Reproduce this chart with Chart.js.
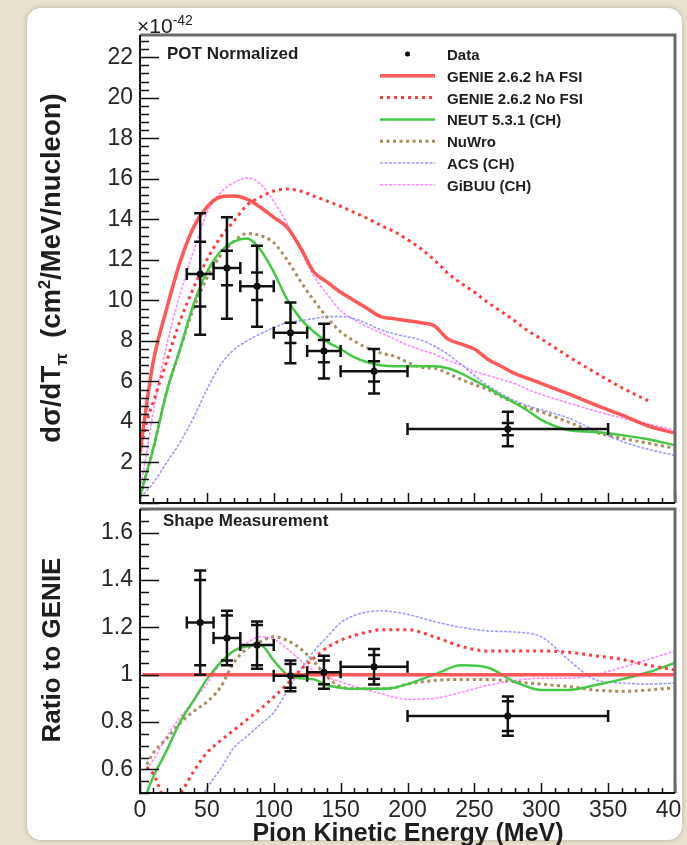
<!DOCTYPE html>
<html>
<head>
<meta charset="utf-8">
<script src="https://cdn.jsdelivr.net/npm/chart.js@4.4.1/dist/chart.umd.min.js"></script>
<style>
  body { margin: 0; width: 687px; height: 845px; overflow: hidden; position: relative;
         background: #e8e2ce; font-family: "Liberation Sans", Arial, sans-serif; }
  .card { position: absolute; left: 27px; top: 8px; width: 655px; height: 832px; background: #fff;
          border-radius: 14px; box-shadow: 0 0 5px rgba(90, 80, 60, 0.35); }
  canvas { position: absolute; left: 0; }
  #topChart { top: 0; }
  #ratioChart { top: 505px; }
  .txt { position: absolute; white-space: nowrap; color: #1e1e1e; line-height: 1; }
  .rot { transform: translate(-50%, -50%) rotate(-90deg); font-weight: bold; font-size: 26px; }
  .rot sub, .rot sup { font-size: 0.6em; line-height: 0; }
  .lbl { font-weight: bold; font-size: 17px; transform: translateY(-50%); }
  .leg { font-weight: bold; font-size: 15px; transform: translateY(-50%); }
</style>
</head>
<body>
<div class="card"></div>
<canvas id="topChart" width="682" height="507"></canvas>
<canvas id="ratioChart" width="682" height="340"></canvas>

<div class="txt" style="left:137px; top:15px; font-size:21px;">×10<span style="position:relative; top:-8px; font-size:14px;">-42</span></div>
<div class="txt rot" style="left:51px; top:268px; font-size:27.5px;">dσ/dT<sub>π</sub>&nbsp;&nbsp;(cm<sup>2</sup>/MeV/nucleon)</div>
<div class="txt rot" style="left:51px; top:650px;">Ratio to GENIE</div>
<div class="txt" style="left:408px; top:832px; transform:translate(-50%,-50%); font-weight:bold; font-size:25px;">Pion Kinetic Energy (MeV)</div>
<div class="txt lbl" style="left:167px; top:53px;">POT Normalized</div>
<div class="txt lbl" style="left:163px; top:520px;">Shape Measurement</div>
<div id="legendText"></div>

<script>
// ---- values ----
const energyGrid = [0, 5, 10, 20, 30, 40, 50, 60, 70, 80, 90, 100, 110, 120, 130, 140, 150, 160, 170, 180,
                    190, 200, 210, 220, 230, 240, 250, 260, 270, 280, 290, 300, 320, 340, 360, 380, 400];
const genieHA    = [2.5, 4.9, 7.0, 9.6, 11.9, 13.6, 14.6, 15.1, 15.15, 15.0, 14.6, 14.1, 13.6, 12.6, 11.4, 10.9, 10.4, 10.0, 9.6, 9.2,
                    9.1, 9.0, 8.9, 8.75, 8.1, 7.85, 7.6, 7.1, 6.75, 6.4, 6.15, 5.9, 5.4, 4.85, 4.35, 3.8, 3.45];
const genieNoFSI = [2.5, 4.0, 5.0, 7.0, 9.0, 10.6, 12.0, 13.1, 13.9, 14.7, 15.1, 15.4, 15.5, 15.4, 15.15, 14.9, 14.65, 14.35, 14.05, 13.7,
                    13.4, 13.0, 12.55, 12.0, 11.35, 10.85, 10.4, 9.9, 9.45, 9.0, 8.5, 8.1, 7.25, 6.45, 5.7, 5.05, null];
const neut       = [0.3, 1.5, 2.7, 5.5, 7.6, 9.8, 11.4, 12.4, 12.9, 13.05, 12.5, 11.4, 10.05, 9.1, 8.45, 7.95, 7.6, 7.2, 6.95, 6.8,
                    6.75, 6.75, 6.75, 6.75, 6.65, 6.4, 6.05, 5.7, 5.3, 4.95, 4.55, 4.1, 3.6, 3.5, 3.35, 3.15, 2.85];
const nuwro      = [0.3, 1.5, 2.7, 5.5, 7.6, 9.6, 11.1, 12.2, 12.9, 13.3, 13.2, 12.85, 12.0, 10.95, 10.0, 9.15, 8.45, 8.0, 7.65, 7.4,
                    7.25, 6.95, 6.7, 6.65, 6.4, 6.1, 5.85, 5.6, 5.25, 4.95, 4.7, 4.5, 4.0, 3.5, 3.2, 2.95, 2.7];
const acs        = [0.3, 0.6, 1.0, 2.0, 3.0, 4.2, 5.6, 6.8, 7.55, 8.0, 8.35, 8.65, 8.9, 9.0, 9.1, 9.2, 9.2, 9.1, 8.85, 8.55,
                    8.35, 8.2, 8.05, 7.75, 7.35, 6.85, 6.3, 5.8, 5.4, 5.05, 4.8, 4.6, 4.2, 3.6, 3.05, 2.65, 2.35];
const gibuu      = [0.5, 2.5, 4.5, 7.8, 10.3, 12.4, 14.3, 15.3, 15.8, 16.05, 15.75, 14.9, 13.8, 12.5, 11.2, 10.3, 9.5, 9.05, 8.7, 8.4,
                    8.1, 7.8, 7.55, 7.35, 7.05, 6.8, 6.5, 6.3, 6.1, 5.9, 5.6, 5.35, 4.95, 4.55, 4.2, 3.9, 3.6];

const ratioGrid  = [5, 10, 20, 30, 40, 50, 60, 70, 80, 90, 100, 110, 120, 130, 140, 150, 160, 170, 180, 190,
                    200, 220, 240, 260, 280, 300, 320, 340, 360, 380, 400];
const genieRatioX = [2, 400];
const genieRatio  = [1, 1];
const noFSIRatio = [0.61, 0.58, 0.47, 0.50, 0.59, 0.67, 0.72, 0.765, 0.81, 0.855, 0.905, 0.96, 1.02, 1.07, 1.115, 1.145, 1.165, 1.18, 1.19, 1.19,
                    1.19, 1.16, 1.12, 1.1, 1.1, 1.1, 1.095, 1.08, 1.065, 1.04, 1.02];
const neutRatio  = [0.5, 0.57, 0.68, 0.8, 0.89, 0.98, 1.05, 1.1, 1.12, 1.125, 1.06, 1.0, 0.985, 0.98, 0.955, 0.945, 0.94, 0.94, 0.94, 0.945,
                    0.96, 1.0, 1.04, 1.03, 0.97, 0.935, 0.935, 0.955, 0.98, 1.01, 1.05];
const nuwroRatio = [0.62, 0.67, 0.73, 0.795, 0.845, 0.885, 0.945, 1.05, 1.11, 1.14, 1.16, 1.145, 1.11, 1.055, 0.99, 0.95, 0.94, 0.94, 0.94, 0.945,
                    0.96, 0.975, 0.98, 0.98, 0.97, 0.96, 0.95, 0.935, 0.93, 0.935, 0.945];
const acsRatio   = [null, null, null, 0.3, 0.42, 0.52, 0.6, 0.69, 0.74, 0.79, 0.84, 0.93, 1.02, 1.1, 1.16, 1.22, 1.25, 1.265, 1.27, 1.265,
                    1.255, 1.225, 1.2, 1.185, 1.18, 1.16, 1.065, 0.98, 0.965, 0.96, 0.965];
const gibuuRatio = [0.6, 0.64, 0.74, 0.82, 0.89, 0.96, 1.045, 1.1, 1.135, 1.16, 1.15, 1.11, 1.06, 1.015, 0.99, 0.97, 0.95, 0.935, 0.92, 0.905,
                    0.896, 0.9, 0.925, 0.955, 0.975, 0.985, 0.985, 1.0, 1.03, 1.065, 1.1];

// measured points: bin centres, bin edges, value, stat (inner) and total (outer) errors
const binCentres = [45, 65, 87.5, 112.5, 137.5, 175, 275];
const binLow     = [35, 55, 75, 100, 125, 150, 200];
const binHigh    = [55, 75, 100, 125, 150, 200, 350];
const xsecData   = [11.3, 11.6, 10.7, 8.4, 7.5, 6.5, 3.65];
const xsecStat   = [1.6, 0.85, 0.68, 0.5, 0.55, 0.5, 0.3];
const xsecTotal  = [3.0, 2.5, 2.0, 1.5, 1.35, 1.1, 0.85];
const ratioData  = [1.22, 1.155, 1.125, 0.995, 1.01, 1.033, 0.825];
const ratioStat  = [0.18, 0.095, 0.085, 0.05, 0.05, 0.05, 0.063];
const ratioTotal = [0.22, 0.115, 0.1, 0.065, 0.07, 0.075, 0.083];

// tick labels
const xsecTicks   = [2, 4, 6, 8, 10, 12, 14, 16, 18, 20, 22];
const ratioTicks  = [0.6, 0.8, 1, 1.2, 1.4, 1.6];
const energyTicks = [0, 50, 100, 150, 200, 250, 300, 350, 400];

const seriesNames = ['GENIE 2.6.2 hA FSI', 'GENIE 2.6.2 No FSI', 'NEUT 5.3.1 (CH)', 'NuWro', 'ACS (CH)', 'GiBUU (CH)'];

// ---- styles ----
const styles = [
  { color: 'rgba(255,70,70,0.9)', width: 3.5, dash: [] },
  { color: '#ff3b3b', width: 3, dash: [3, 4] },
  { color: '#45c845', width: 2.5, dash: [] },
  { color: '#a88e5c', width: 3, dash: [3, 3.5] },
  { color: '#9c9cff', width: 1.6, dash: [3, 1.5] },
  { color: '#ff8cff', width: 1.6, dash: [3, 1.5] }
];

const pts = (xs, ys) => xs.map((x, i) => ({ x: x, y: ys[i] }));
const useTicks = list => scale => { scale.ticks = list.map(v => ({ value: v })); };
const plainLabel = v => String(+v.toFixed(2));

function curve(i, xs, ys) {
  const s = styles[i];
  return {
    label: seriesNames[i], data: pts(xs, ys), borderColor: s.color, borderWidth: s.width,
    borderDash: s.dash, pointRadius: 0, fill: false, cubicInterpolationMode: 'monotone', spanGaps: false
  };
}

function dataSet(ys) {
  return { type: 'scatter', label: 'Data', data: pts(binCentres, ys), pointRadius: 3.5,
           pointBackgroundColor: '#000', pointBorderColor: '#000', borderWidth: 0 };
}

// ROOT-like frame with inward ticks, drawn from the chart's scales
function frameTicks(cfg) {
  return {
    id: 'frameTicks',
    afterDraw(chart) {
      const { ctx, chartArea: a, scales: { x, y } } = chart;
      ctx.save();
      ctx.strokeStyle = '#111';
      ctx.lineWidth = 1.5;
      ctx.beginPath();
      for (let k = Math.ceil(x.min / cfg.xMinor - 1e-9); k * cfg.xMinor <= x.max + 1e-9; k++) {
        const major = k % cfg.xRatio === 0;
        const px = Math.round(x.getPixelForValue(k * cfg.xMinor)) + 0.5;
        ctx.moveTo(px, a.bottom);
        ctx.lineTo(px, a.bottom - (major ? 10 : 5));
      }
      for (let k = Math.ceil(y.min / cfg.yMinor - 1e-9); k * cfg.yMinor <= y.max + 1e-9; k++) {
        const major = k % cfg.yRatio === 0;
        const py = Math.round(y.getPixelForValue(k * cfg.yMinor)) + 0.5;
        ctx.moveTo(a.left, py);
        ctx.lineTo(a.left + (major ? 19 : 9), py);
      }
      ctx.stroke();
      // top / right edges (grey, heavier), left / bottom axes black
      ctx.strokeStyle = '#6a6a6a';
      ctx.lineWidth = 3;
      ctx.beginPath();
      ctx.moveTo(a.left, a.top); ctx.lineTo(a.right, a.top); ctx.lineTo(a.right, a.bottom);
      ctx.stroke();
      ctx.strokeStyle = '#111';
      ctx.lineWidth = 2;
      ctx.beginPath();
      ctx.moveTo(a.left, a.top); ctx.lineTo(a.left, a.bottom); ctx.lineTo(a.right, a.bottom);
      ctx.stroke();
      ctx.restore();
    }
  };
}

// two-level error bars: horizontal bin width, inner stat caps and outer total caps
function errorBars(vals, stat, total) {
  return {
    id: 'errorBars',
    afterDatasetsDraw(chart) {
      const { ctx, scales: { x, y } } = chart;
      ctx.save();
      ctx.strokeStyle = '#111';
      ctx.lineWidth = 2.5;
      ctx.beginPath();
      binCentres.forEach((c, i) => {
        const px = x.getPixelForValue(c), py = y.getPixelForValue(vals[i]);
        const x0 = x.getPixelForValue(binLow[i]), x1 = x.getPixelForValue(binHigh[i]);
        ctx.moveTo(x0, py); ctx.lineTo(x1, py);
        ctx.moveTo(x0, py - 6); ctx.lineTo(x0, py + 6);
        ctx.moveTo(x1, py - 6); ctx.lineTo(x1, py + 6);
        const yt = y.getPixelForValue(vals[i] + total[i]), yb = y.getPixelForValue(vals[i] - total[i]);
        ctx.moveTo(px, yt); ctx.lineTo(px, yb);
        [yt, yb, y.getPixelForValue(vals[i] + stat[i]), y.getPixelForValue(vals[i] - stat[i])].forEach(v => {
          ctx.moveTo(px - 6, v); ctx.lineTo(px + 6, v);
        });
      });
      ctx.stroke();
      ctx.restore();
    }
  };
}

// legend samples (text is html, see below)
const legendX0 = 380, legendX1 = 435, legendTextX = 447, legendY0 = 54, legendStep = 21.8;
const legendSamples = {
  id: 'legendSamples',
  afterDraw(chart) {
    const ctx = chart.ctx;
    ctx.save();
    ctx.fillStyle = '#000';
    ctx.beginPath();
    ctx.arc((legendX0 + legendX1) / 2, legendY0, 2.5, 0, Math.PI * 2);
    ctx.fill();
    styles.forEach((s, i) => {
      const yy = legendY0 + legendStep * (i + 1);
      ctx.strokeStyle = s.color;
      ctx.lineWidth = s.width;
      ctx.setLineDash(s.dash);
      ctx.beginPath();
      ctx.moveTo(legendX0, yy); ctx.lineTo(legendX1, yy);
      ctx.stroke();
    });
    ctx.restore();
  }
};

const tickFont = { family: '"Liberation Sans", Arial, sans-serif', size: 23 };
const tickColor = '#262626';
const yFit = s => { s.width = 140; s.paddingTop = 0; s.paddingBottom = 0; };
const xFit = h => s => { s.height = h; s.paddingLeft = 0; s.paddingRight = 0; };

new Chart(document.getElementById('topChart'), {
  type: 'line',
  data: {
    datasets: [
      dataSet(xsecData),
      curve(0, energyGrid, genieHA),
      curve(1, energyGrid, genieNoFSI),
      curve(2, energyGrid, neut),
      curve(3, energyGrid, nuwro),
      curve(4, energyGrid, acs),
      curve(5, energyGrid, gibuu)
    ]
  },
  options: {
    responsive: false, animation: false, events: [],
    layout: { padding: { left: 0, right: 7, top: 35, bottom: 0 } },
    plugins: { legend: { display: false }, tooltip: { enabled: false } },
    scales: {
      x: {
        type: 'linear', min: 0, max: 400,
        grid: { display: false }, border: { display: false },
        ticks: { display: false },
        afterFit: xFit(3)
      },
      y: {
        min: 0, max: 23.1,
        grid: { display: false, drawTicks: false }, border: { display: false },
        ticks: { autoSkip: false, padding: 7, font: tickFont, color: tickColor, callback: plainLabel },
        afterBuildTicks: useTicks(xsecTicks),
        afterFit: yFit
      }
    }
  },
  plugins: [errorBars(xsecData, xsecStat, xsecTotal), frameTicks({ xMinor: 10, xRatio: 5, yMinor: 0.4, yRatio: 5 }), legendSamples]
});

new Chart(document.getElementById('ratioChart'), {
  type: 'line',
  data: {
    datasets: [
      dataSet(ratioData),
      curve(0, genieRatioX, genieRatio),
      curve(1, ratioGrid, noFSIRatio),
      curve(2, ratioGrid, neutRatio),
      curve(3, ratioGrid, nuwroRatio),
      curve(4, ratioGrid, acsRatio),
      curve(5, ratioGrid, gibuuRatio)
    ]
  },
  options: {
    responsive: false, animation: false, events: [],
    layout: { padding: { left: 0, right: 7, top: 2, bottom: 0 } },
    plugins: { legend: { display: false }, tooltip: { enabled: false } },
    scales: {
      x: {
        type: 'linear', min: 0, max: 400,
        grid: { display: false, drawTicks: false }, border: { display: false },
        ticks: { autoSkip: false, maxRotation: 0, padding: 4, font: tickFont, color: tickColor, callback: plainLabel },
        afterBuildTicks: useTicks(energyTicks),
        afterFit: xFit(52)
      },
      y: {
        min: 0.5, max: 1.7,
        grid: { display: false, drawTicks: false }, border: { display: false },
        ticks: { autoSkip: false, padding: 7, font: tickFont, color: tickColor, callback: plainLabel },
        afterBuildTicks: useTicks(ratioTicks),
        afterFit: yFit
      }
    }
  },
  plugins: [errorBars(ratioData, ratioStat, ratioTotal), frameTicks({ xMinor: 10, xRatio: 5, yMinor: 0.05, yRatio: 4 })]
});

// legend text, one row per entry
const legendBox = document.getElementById('legendText');
['Data'].concat(seriesNames).forEach((name, i) => {
  const d = document.createElement('div');
  d.className = 'txt leg';
  d.style.left = legendTextX + 'px';
  d.style.top = (legendY0 + legendStep * i) + 'px';
  d.textContent = name;
  legendBox.appendChild(d);
});
</script>
</body>
</html>
